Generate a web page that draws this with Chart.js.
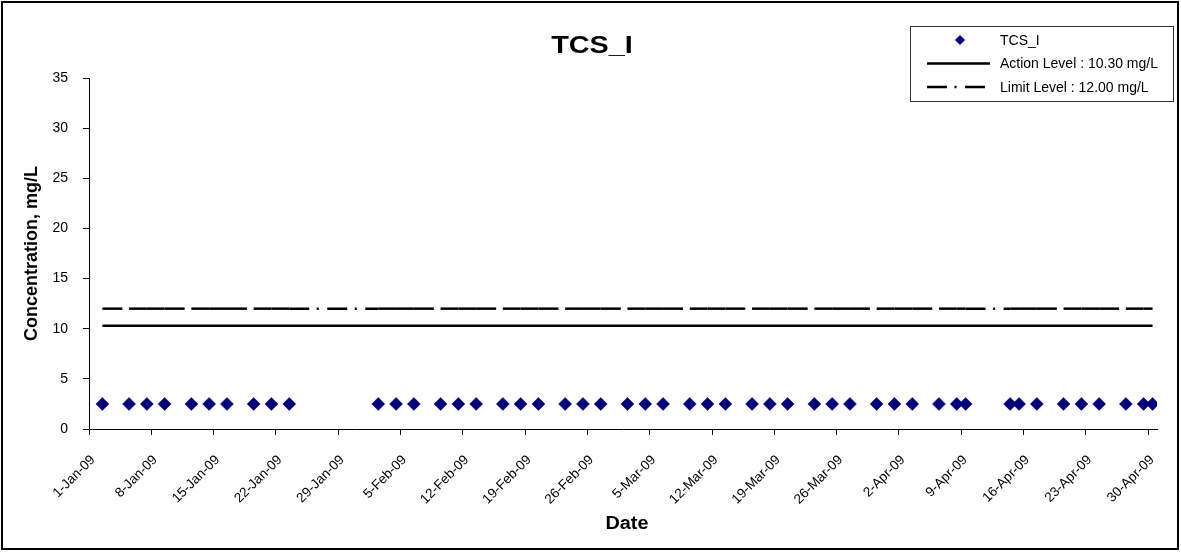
<!DOCTYPE html>
<html>
<head>
<meta charset="utf-8">
<script src="https://cdn.jsdelivr.net/npm/chart.js@4.4.1/dist/chart.umd.min.js"></script>
<style>
  html, body { margin: 0; padding: 0; background: #fff; }
  #wrap { width: 1181px; height: 552px; position: relative; }
</style>
</head>
<body>
<div id="wrap"><canvas id="c" width="1181" height="552"></canvas></div>
<script>
// ---------------- DATA ----------------
const chartTitle = 'TCS_I';
const xAxisTitle = 'Date';
const yAxisTitle = 'Concentration, mg/L';

const sampleDates = [
  '2-Jan-09', '5-Jan-09', '7-Jan-09', '9-Jan-09', '12-Jan-09', '14-Jan-09', '16-Jan-09', '19-Jan-09', '21-Jan-09', '23-Jan-09',
  '2-Feb-09', '4-Feb-09', '6-Feb-09', '9-Feb-09', '11-Feb-09', '13-Feb-09', '16-Feb-09', '18-Feb-09', '20-Feb-09', '23-Feb-09', '25-Feb-09', '27-Feb-09',
  '2-Mar-09', '4-Mar-09', '6-Mar-09', '9-Mar-09', '11-Mar-09', '13-Mar-09', '16-Mar-09', '18-Mar-09', '20-Mar-09', '23-Mar-09', '25-Mar-09', '27-Mar-09', '30-Mar-09',
  '1-Apr-09', '3-Apr-09', '6-Apr-09', '8-Apr-09', '9-Apr-09', '14-Apr-09', '15-Apr-09', '17-Apr-09', '20-Apr-09', '22-Apr-09', '24-Apr-09', '27-Apr-09', '29-Apr-09', '30-Apr-09'
];

const tcsValues = [
  2.5, 2.5, 2.5, 2.5, 2.5, 2.5, 2.5, 2.5, 2.5, 2.5,
  2.5, 2.5, 2.5, 2.5, 2.5, 2.5, 2.5, 2.5, 2.5, 2.5, 2.5, 2.5,
  2.5, 2.5, 2.5, 2.5, 2.5, 2.5, 2.5, 2.5, 2.5, 2.5, 2.5, 2.5, 2.5,
  2.5, 2.5, 2.5, 2.5, 2.5, 2.5, 2.5, 2.5, 2.5, 2.5, 2.5, 2.5, 2.5, 2.5
];

const actionLevel = 10.30;
const limitLevel = 12.00;

const seriesLabels = ['TCS_I', 'Action Level : 10.30 mg/L', 'Limit Level : 12.00 mg/L'];

const xTickLabels = [
  '1-Jan-09', '8-Jan-09', '15-Jan-09', '22-Jan-09', '29-Jan-09', '5-Feb-09', '12-Feb-09', '19-Feb-09', '26-Feb-09',
  '5-Mar-09', '12-Mar-09', '19-Mar-09', '26-Mar-09', '2-Apr-09', '9-Apr-09', '16-Apr-09', '23-Apr-09', '30-Apr-09'
];
const xAxisStart = '1-Jan-09';
const xAxisEnd = '1-May-09';

const yMin = 0, yMax = 35, yStep = 5;

// ---------------- HELPERS ----------------
const MONTHS = { Jan: 0, Feb: 1, Mar: 2, Apr: 3, May: 4, Jun: 5, Jul: 6, Aug: 7, Sep: 8, Oct: 9, Nov: 10, Dec: 11 };
function dayOf(s) {
  const [d, m, y] = s.split('-');
  const base = Date.UTC(2009, 0, 1);
  return (Date.UTC(2000 + Number(y), MONTHS[m], Number(d)) - base) / 86400000;
}
// Excel date axis places each point in the middle of its day
const pointX = s => dayOf(s) + 0.5;

const FONT = "'Liberation Sans', Arial, Helvetica, sans-serif";

const tcsData = sampleDates.map((d, i) => ({ x: pointX(d), y: tcsValues[i] }));
const actionData = sampleDates.map(d => ({ x: pointX(d), y: actionLevel }));
const limitData = sampleDates.map(d => ({ x: pointX(d), y: limitLevel }));

const LIMIT_DASH = [20, 7.5, 2, 8.5];

// ---------------- PLUGIN: background, border, titles, legend ----------------
function drawDiamond(ctx, x, y, r, color) {
  ctx.beginPath();
  ctx.moveTo(x - r, y);
  ctx.lineTo(x, y - r);
  ctx.lineTo(x + r, y);
  ctx.lineTo(x, y + r);
  ctx.closePath();
  ctx.fillStyle = color;
  ctx.fill();
}

const chromePlugin = {
  id: 'chrome',
  beforeDraw(chart) {
    const ctx = chart.ctx;
    ctx.save();
    ctx.fillStyle = '#fff';
    ctx.fillRect(0, 0, chart.width, chart.height);
    ctx.restore();
  },
  afterDraw(chart) {
    const ctx = chart.ctx;
    const area = chart.chartArea;
    ctx.save();
    // outer frame
    ctx.strokeStyle = '#000';
    ctx.lineWidth = 2;
    ctx.strokeRect(2, 2, chart.width - 5, chart.height - 5);

    // chart title
    ctx.fillStyle = '#000';
    ctx.textAlign = 'center';
    ctx.textBaseline = 'middle';
    ctx.save();
    ctx.translate(592, 46);
    ctx.scale(1.2, 1);
    ctx.font = `bold 24px ${FONT}`;
    ctx.fillText(chartTitle, 0, 0);
    ctx.restore();

    // y axis title
    ctx.save();
    ctx.translate(32, (area.top + area.bottom) / 2);
    ctx.rotate(-Math.PI / 2);
    ctx.font = `bold 18px ${FONT}`;
    ctx.fillText(yAxisTitle, 0, 0);
    ctx.restore();

    // x axis title
    ctx.save();
    ctx.translate((area.left + area.right) / 2 + 4, 524);
    ctx.scale(1.1, 1);
    ctx.font = `bold 18px ${FONT}`;
    ctx.fillText(xAxisTitle, 0, 0);
    ctx.restore();

    // legend box
    const lx = 910, ly = 26, lw = 263, lh = 75;
    ctx.fillStyle = '#fff';
    ctx.fillRect(lx, ly, lw, lh);
    ctx.strokeStyle = '#333';
    ctx.lineWidth = 1;
    ctx.strokeRect(lx + 0.5, ly + 0.5, lw, lh);
    const rows = [40, 63.5, 87];
    chart.data.datasets.forEach((ds, i) => {
      const y = rows[i];
      if (ds.showLine === false) {
        drawDiamond(ctx, 960, y, 5, ds.backgroundColor);
      } else {
        ctx.save();
        ctx.strokeStyle = ds.borderColor;
        ctx.lineWidth = ds.borderWidth;
        ctx.lineCap = 'butt';
        ctx.setLineDash(ds.borderDash || []);
        ctx.beginPath();
        ctx.moveTo(927, y);
        ctx.lineTo(990, y);
        ctx.stroke();
        ctx.restore();
      }
      ctx.fillStyle = '#000';
      ctx.textAlign = 'left';
      ctx.textBaseline = 'middle';
      ctx.font = `14px ${FONT}`;
      ctx.fillText(ds.label, 1000, y + 1);
    });
    ctx.restore();
  }
};

// ---------------- CHART ----------------
new Chart(document.getElementById('c'), {
  type: 'line',
  data: {
    datasets: [
      {
        label: seriesLabels[0],
        data: tcsData,
        showLine: false,
        pointStyle: 'rectRot',
        pointRadius: 6.5,
        pointHoverRadius: 6.5,
        pointBorderWidth: 0.5,
        backgroundColor: '#000080',
        borderColor: '#000080',
        pointBackgroundColor: '#000080',
        pointBorderColor: '#000080',
        order: 0
      },
      {
        label: seriesLabels[1],
        data: actionData,
        borderColor: '#000',
        backgroundColor: '#000',
        borderWidth: 2.5,
        pointRadius: 0,
        pointHoverRadius: 0,
        fill: false,
        tension: 0,
        order: 1
      },
      {
        label: seriesLabels[2],
        data: limitData,
        borderColor: '#000',
        backgroundColor: '#000',
        borderWidth: 2.5,
        borderDash: LIMIT_DASH,
        borderCapStyle: 'butt',
        pointRadius: 0,
        pointHoverRadius: 0,
        fill: false,
        tension: 0,
        order: 2,
        // restart the dash pattern at every sample (Excel style)
        segment: {
          borderDashOffset: c => (c.p0DataIndex % 2 ? 0.001 : 0)
        }
      }
    ]
  },
  options: {
    responsive: false,
    devicePixelRatio: 1,
    animation: false,
    events: [],
    layout: { padding: { left: 0, right: 24, top: 78, bottom: 0 } },
    plugins: {
      legend: { display: false },
      title: { display: false },
      tooltip: { enabled: false }
    },
    scales: {
      x: {
        type: 'linear',
        min: dayOf(xAxisStart),
        max: dayOf(xAxisEnd),
        afterBuildTicks: s => { s.ticks = xTickLabels.map(l => ({ value: dayOf(l) })); },
        afterFit: s => { s.height = 123; },
        ticks: {
          autoSkip: false,
          minRotation: 45,
          maxRotation: 45,
          padding: 17,
          labelOffset: 4,
          color: '#000',
          font: { family: FONT, size: 13.5 },
          callback: (v, i) => xTickLabels[i]
        },
        grid: { drawOnChartArea: false, drawTicks: true, tickLength: 6, color: '#000', lineWidth: 1 },
        border: { display: true, color: '#000', width: 1 }
      },
      y: {
        type: 'linear',
        min: yMin,
        max: yMax,
        afterFit: s => { s.width = 89; },
        ticks: {
          stepSize: yStep,
          padding: 15,
          color: '#000',
          font: { family: FONT, size: 14 }
        },
        grid: { drawOnChartArea: false, drawTicks: true, tickLength: 6, color: '#000', lineWidth: 1 },
        border: { display: true, color: '#000', width: 1 }
      }
    }
  },
  plugins: [chromePlugin]
});
</script>
</body>
</html>
